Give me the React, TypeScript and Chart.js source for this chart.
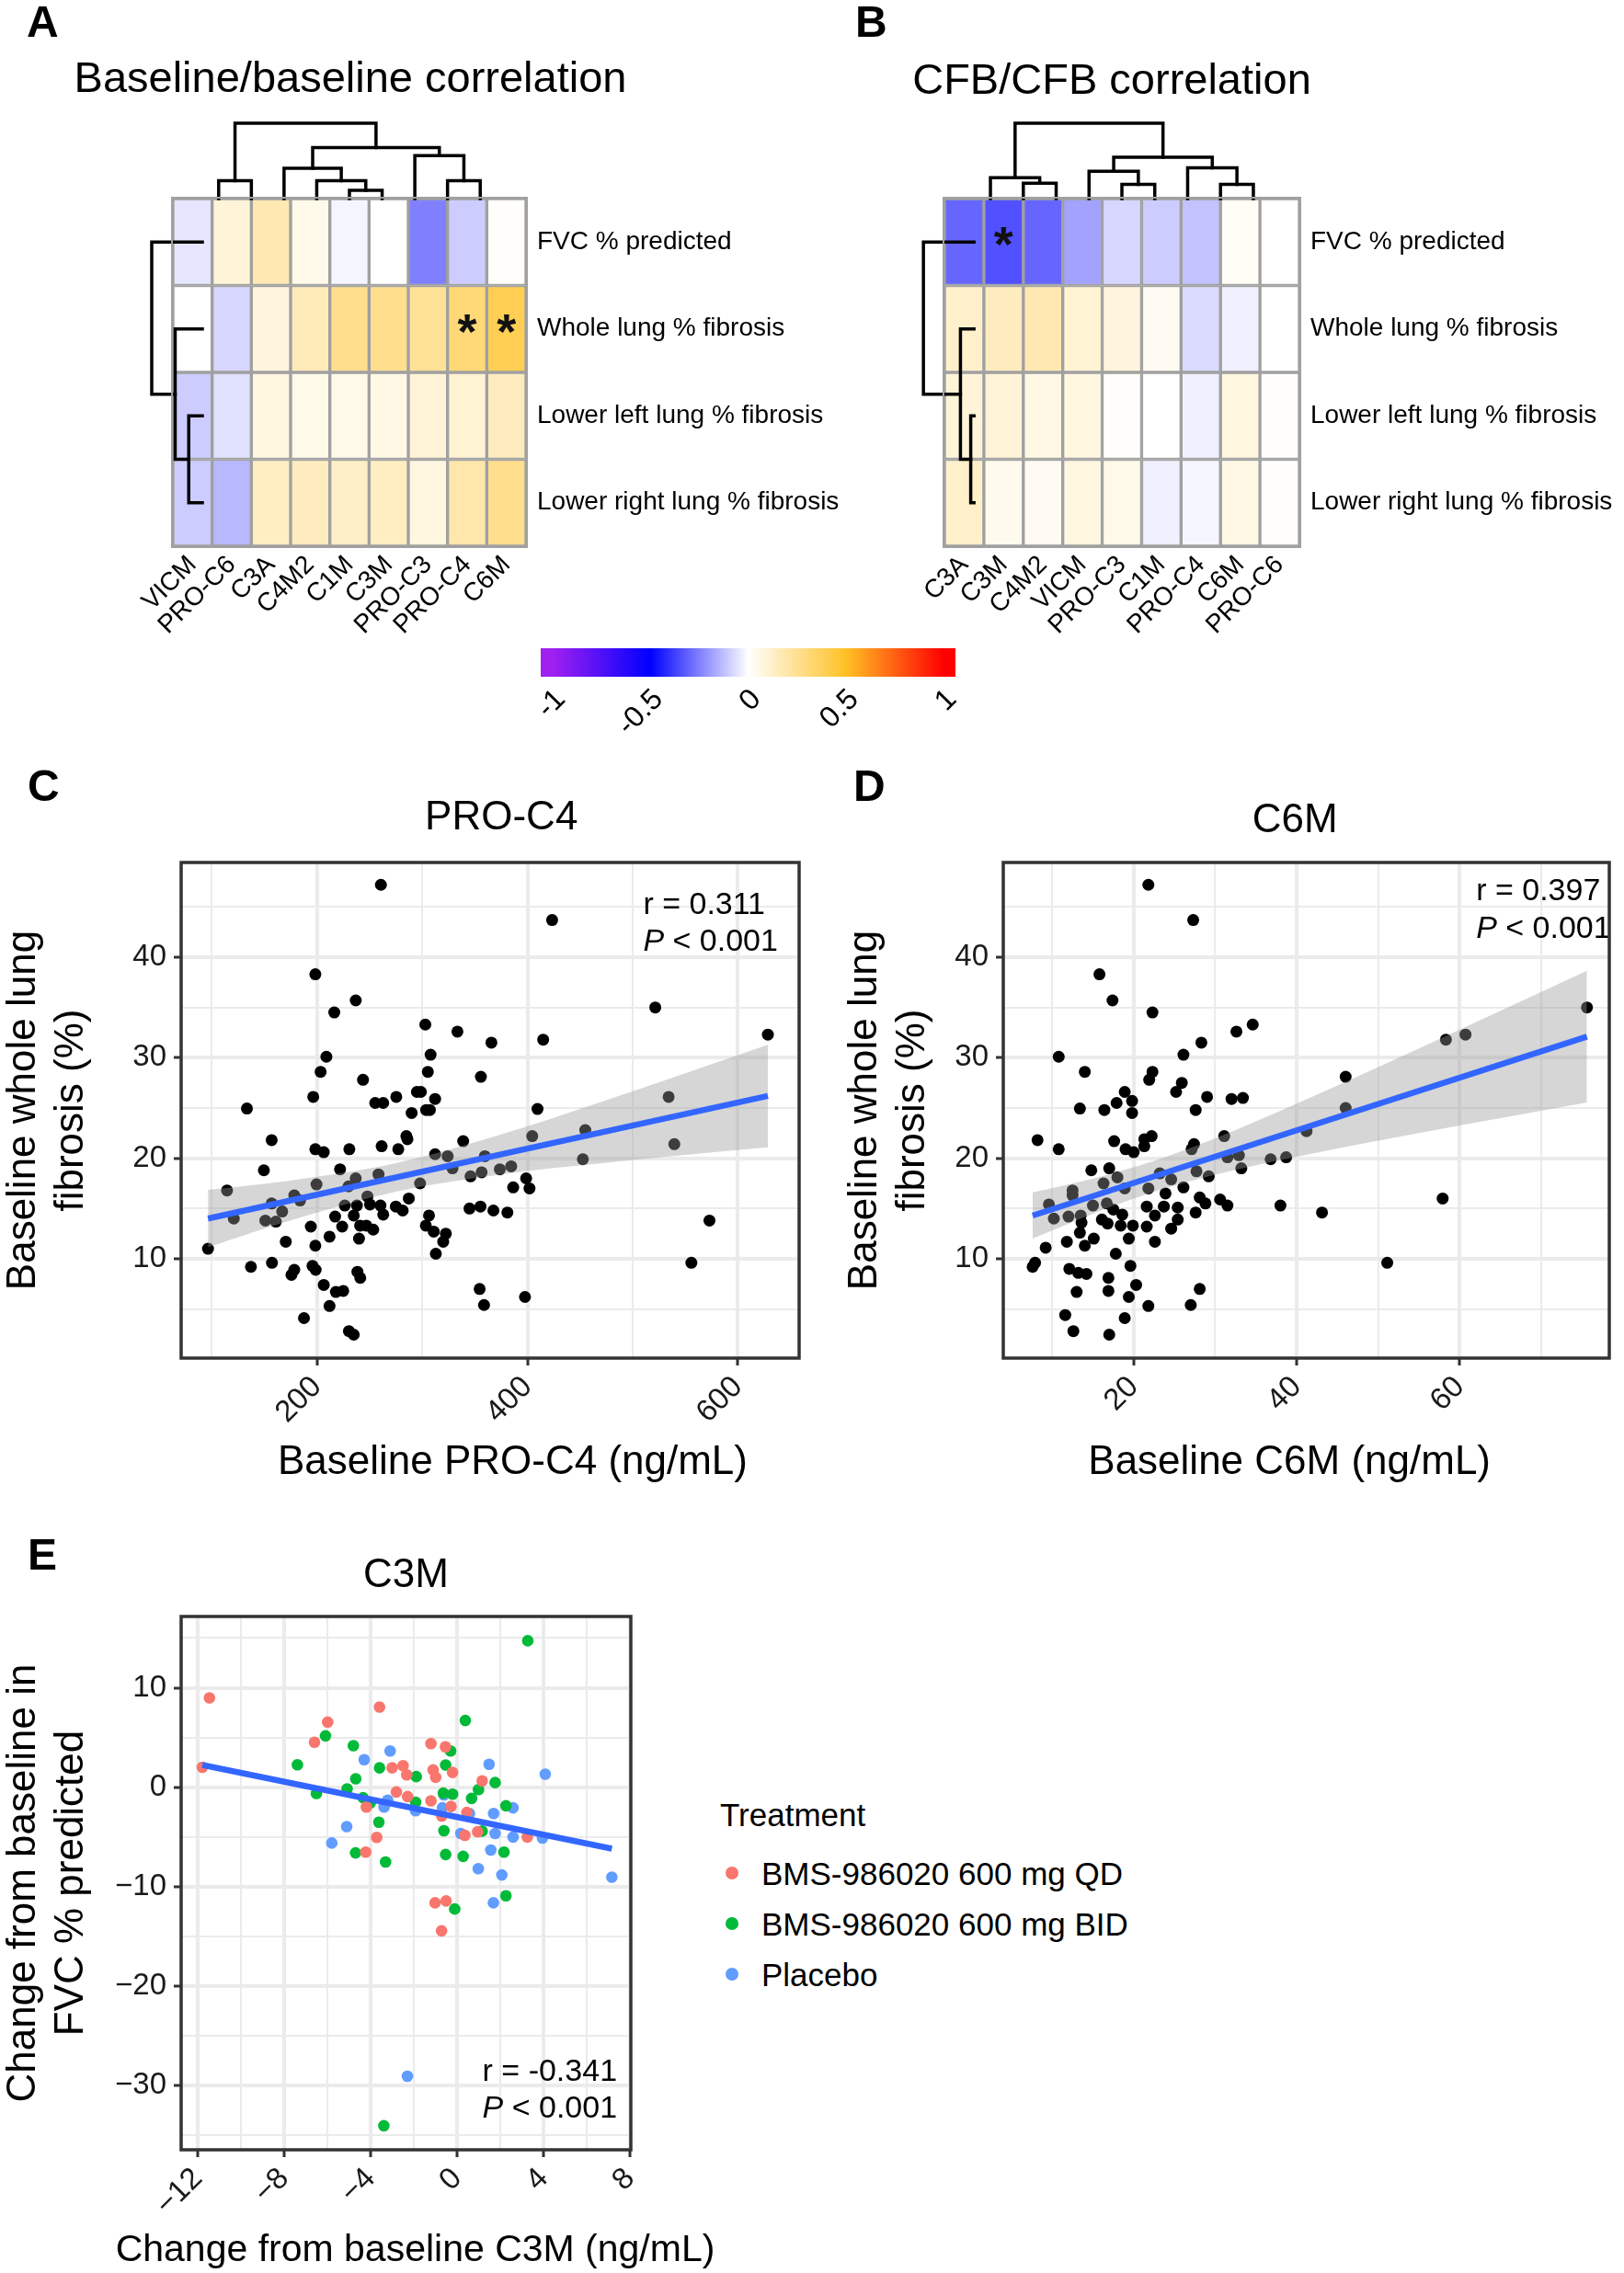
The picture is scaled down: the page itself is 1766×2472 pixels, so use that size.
import React, { useEffect, useRef } from 'react';
import { Chart, registerables } from 'chart.js';

Chart.register(...registerables);

const FONT = '"Liberation Sans", Arial, Helvetica, sans-serif';
Chart.defaults.font.family = FONT;
Chart.defaults.color = '#000';

// ---------------- Heatmap data ----------------
const rowLabels = ['FVC % predicted', 'Whole lung % fibrosis', 'Lower left lung % fibrosis', 'Lower right lung % fibrosis'];

const colsA = ['VICM', 'PRO-C6', 'C3A', 'C4M2', 'C1M', 'C3M', 'PRO-C3', 'PRO-C4', 'C6M'];
const corrA_FVC = [-0.05, 0.09, 0.18, 0.05, -0.02, 0.0, -0.25, -0.1, 0.01];
const corrA_Whole = [0.0, -0.08, 0.08, 0.16, 0.26, 0.26, 0.24, 0.311, 0.397];
const corrA_LowerLeft = [-0.1, -0.06, 0.07, 0.05, 0.05, 0.06, 0.09, 0.1, 0.15];
const corrA_LowerRight = [-0.1, -0.14, 0.14, 0.15, 0.13, 0.14, 0.07, 0.19, 0.26];
const sigA = [[1, 7], [1, 8]];
const colMergeA = [[-5, -6], [-1, -2], [-4, 1], [-8, -9], [-3, 3], [-7, 4], [5, 6], [2, 7]];
const colHeightA = [0.109, 0.237, 0.237, 0.237, 0.403, 0.569, 0.678, 1.0];
const rowMergeA = [[-3, -4], [-2, 1], [-1, 2]];
const rowHeightA = [0.268, 0.537, 1.0];

const colsB = ['C3A', 'C3M', 'C4M2', 'VICM', 'PRO-C3', 'C1M', 'PRO-C4', 'C6M', 'PRO-C6'];
const corrB_FVC = [-0.3, -0.341, -0.3, -0.18, -0.08, -0.1, -0.12, 0.02, 0.0];
const corrB_Whole = [0.12, 0.15, 0.18, 0.1, 0.08, 0.03, -0.07, -0.03, 0.0];
const corrB_LowerLeft = [0.09, 0.09, 0.06, 0.07, 0.01, 0.0, -0.03, 0.07, 0.005];
const corrB_LowerRight = [0.12, 0.04, 0.03, 0.07, 0.05, -0.03, -0.02, 0.06, 0.005];
const sigB = [[0, 1]];
const colMergeB = [[-2, -3], [-5, -6], [-8, -9], [-1, 1], [-4, 2], [-7, 3], [5, 6], [4, 7]];
const colHeightB = [0.205, 0.19, 0.19, 0.276, 0.362, 0.41, 0.548, 1.0];
const rowMergeB = [[-3, -4], [-2, 1], [-1, 2]];
const rowHeightB = [0.065, 0.268, 1.0];

// colour scale
const scaleStops = [-1, -0.5, 0, 0.5, 1];
const scaleColors = ['#A020F0', '#0000FF', '#FFFFFF', '#FFC125', '#FF0000'];
const scaleTickLabels = ['-1', '-0.5', '0', '0.5', '1'];

// ---------------- Panel C (PRO-C4) ----------------
const cX = [260.8, 423.5, 198.5, 236.9, 216.5, 521.5, 628.5, 303, 333.5, 365.8, 415, 209, 203.5, 308, 305.4, 243.8, 355.8, 196.5, 255.4, 263, 275.4, 295, 298.8, 312.3, 133.5, 290, 303.8, 307.3, 409.6, 534.2, 157, 285, 286, 339, 404.6, 455, 539.6, 198.5, 206.5, 230.8, 261.5, 277.3, 312.3, 324.2, 359.6, 452.7, 149.6, 222, 236.9, 258.5, 328.8, 346, 356.5, 373.8, 384.6, 114.6, 121, 151, 157, 161, 167, 178.5, 184, 199.6, 230, 226.5, 238, 248, 250.4, 260.4, 263, 217.3, 224, 235, 241, 253.5, 247, 240, 275, 281.5, 287.3, 298, 306.5, 303.5, 311, 322.5, 320, 313, 345, 355.4, 367.7, 381, 386.5, 398.8, 402, 194.2, 212, 198.5, 170.4, 96.5, 137.3, 157.3, 175.8, 178.5, 195.8, 198.8, 206.5, 218, 225, 238.5, 241.2, 212, 187.7, 230.4, 235, 354.6, 358.8, 397.7, 573, 555.8];
const cY = [47.2, 43.7, 38.3, 35.7, 34.5, 35.0, 32.3, 33.3, 32.6, 31.5, 31.8, 30.1, 28.6, 30.3, 28.6, 27.8, 28.1, 26.1, 25.5, 25.5, 26.1, 26.6, 26.6, 25.9, 24.95, 24.5, 24.8, 24.8, 24.9, 26.1, 21.8, 22.2, 21.9, 21.7, 22.2, 22.8, 21.4, 20.9, 20.6, 20.9, 21.2, 20.9, 20.4, 20.2, 20.2, 19.9, 18.8, 18.9, 18.0, 18.4, 19.0, 18.2, 18.6, 18.9, 19.2, 16.8, 14.0, 13.8, 15.5, 13.7, 14.7, 16.3, 15.8, 17.4, 17.2, 15.3, 15.3, 16.2, 15.4, 15.3, 14.4, 14.2, 13.2, 14.3, 13.3, 12.9, 13.3, 12.0, 15.2, 14.8, 16.0, 17.5, 14.3, 13.3, 12.7, 12.5, 11.7, 10.5, 15.0, 15.2, 14.8, 14.6, 17.1, 18.0, 17.0, 13.2, 12.2, 11.3, 11.7, 11.0, 9.2, 9.6, 8.4, 8.9, 9.3, 8.9, 7.4, 6.7, 6.8, 8.7, 8.1, 5.3, 4.1, 2.8, 2.45, 7.0, 5.4, 6.2, 13.8, 9.6];
const fitCX = [96.5, 628.5];
const fitCY = [14.0, 26.2];
const bandCX = [96.5, 175, 275, 375, 475, 550, 628.5];
const bandCLow = [11.15, 13.82, 16.68, 18.4, 19.56, 20.33, 21.08];
const bandCHigh = [16.85, 17.78, 19.5, 22.36, 25.78, 28.45, 31.28];
const ticksCX = [100, 200, 300, 400, 500, 600];
const majorCX = [200, 400, 600];
const ticksFibY = [5, 10, 15, 20, 25, 30, 35, 40, 45];
const majorFibY = [10, 20, 30, 40];

// ---------------- Panel D (C6M) ----------------
const dX = [21.8, 27.3, 15.8, 17.4, 22.3, 75.6, 34.6, 32.6, 60.7, 58.3, 28.3, 10.8, 26.1, 14.0, 22.3, 21.9, 46.0, 25.9, 25.2, 18.9, 17.9, 19.8, 29.0, 32.0, 33.4, 13.4, 16.4, 19.8, 27.6, 46.0, 8.2, 10.8, 17.6, 19.0, 20.0, 21.3, 22.2, 21.3, 27.1, 27.4, 31.1, 41.2, 32.9, 31.5, 36.8, 38.7, 14.8, 17.0, 18.0, 16.3, 23.2, 24.6, 27.7, 29.2, 33.2, 12.5, 12.5, 9.6, 10.2, 12.0, 13.5, 15.0, 16.7, 17.5, 18.6, 18.9, 21.8, 23.9, 26.1, 28.1, 28.8, 30.6, 31.5, 38.0, 43.1, 57.9, 21.6, 23.7, 25.4, 22.6, 25.4, 27.6, 13.6, 16.1, 16.8, 18.4, 19.9, 21.6, 24.6, 13.4, 15.1, 19.4, 22.6, 11.8, 14.0, 9.2, 17.8, 7.6, 7.9, 12.1, 13.2, 14.2, 19.6, 16.9, 20.3, 13.0, 16.9, 19.4, 28.1, 21.8, 27.0, 11.6, 18.9, 12.6, 17.0, 51.1];
const dY = [47.2, 43.7, 38.3, 35.7, 34.5, 35.0, 33.3, 32.6, 32.3, 31.8, 31.5, 30.1, 30.3, 28.6, 28.6, 27.8, 28.1, 27.5, 26.6, 26.6, 25.5, 25.7, 26.1, 25.9, 26.0, 24.95, 24.8, 24.5, 24.8, 25.0, 21.8, 20.9, 21.7, 20.9, 20.6, 21.2, 22.2, 21.9, 20.9, 21.4, 22.2, 22.7, 20.3, 20.1, 19.9, 20.1, 18.8, 19.0, 18.1, 17.5, 18.5, 17.9, 18.7, 18.2, 19.0, 16.8, 16.3, 15.4, 14.0, 14.2, 14.3, 15.3, 15.5, 14.9, 14.4, 17.0, 17.0, 16.5, 17.1, 16.1, 15.5, 15.9, 15.3, 15.3, 14.6, 16.0, 15.2, 15.2, 15.1, 14.3, 13.9, 14.6, 13.6, 13.9, 13.5, 13.3, 13.3, 13.2, 13.0, 12.6, 12.0, 12.0, 11.7, 11.7, 11.3, 11.1, 10.5, 9.2, 9.6, 9.0, 8.6, 8.5, 9.3, 8.1, 7.4, 6.7, 6.8, 6.2, 7.0, 5.3, 5.4, 4.4, 4.1, 2.8, 2.45, 9.6];
const fitDX = [7.6, 75.6];
const fitDY = [14.3, 32.1];
const bandDX = [7.6, 15, 22, 30, 40, 50, 60, 75.6];
const bandDLow = [12.0, 14.49, 16.53, 18.36, 20.15, 21.75, 23.26, 25.55];
const bandDHigh = [16.6, 17.99, 19.61, 21.98, 25.43, 29.07, 32.8, 38.65];
const ticksDX = [10, 20, 30, 40, 50, 60, 70];
const majorDX = [20, 40, 60];

// ---------------- Panel E (C3M change) ----------------
const groupNames = ['BMS-986020 600 mg QD', 'BMS-986020 600 mg BID', 'Placebo'];
const groupColors = ['#F8766D', '#00BA38', '#619CFF'];
const qdX = [-11.46, -11.79, -3.59, -5.99, -6.6, -1.21, -0.54, -3.01, -2.5, -2.33, -1.11, -0.99, -0.21, 1.16, -2.81, -2.29, -1.21, -4.2, -0.28, -0.71, 0.45, 0.95, 0.36, -3.72, -4.23, 3.25, -1.02, -0.51, -0.72];
const qdY = [8.98, 2.0, 8.06, 6.54, 4.52, 4.38, 4.06, 1.94, 2.16, 1.24, 1.73, 0.99, 1.48, 0.64, -0.49, -0.95, -1.38, -2.0, -1.94, -2.9, -2.54, -4.49, -4.84, -5.05, -6.54, -5.02, -11.63, -11.45, -14.45];
const bidX = [3.27, 0.38, -6.09, -4.8, -0.3, -7.39, -0.53, -3.59, -1.89, -4.69, 1.76, -5.09, 0.99, -0.64, -0.21, -6.51, 0.67, -4.35, -4.02, -1.92, 2.26, -3.62, -0.61, 1.16, -4.7, -3.31, -0.53, 0.28, 2.17, 2.26, -0.11, -3.39];
const bidY = [14.73, 6.71, 5.16, 4.17, 3.64, 2.26, 2.23, 1.94, 1.06, 0.85, 0.46, -0.18, -0.25, -0.6, -0.71, -0.64, -1.13, -1.06, -1.59, -1.52, -1.87, -3.53, -4.38, -4.42, -6.61, -7.53, -6.78, -6.96, -6.54, -10.92, -12.26, -34.06];
const pboX = [-3.1, -4.3, 1.48, 4.08, -0.61, -3.21, -3.38, -1.92, -0.68, 0.57, 1.69, 2.59, -5.11, 0.17, 1.76, 2.59, 3.95, -5.8, 1.56, 0.98, 2.07, 7.16, 1.68, -2.3];
const pboY = [3.64, 2.76, 2.3, 1.31, -0.78, -1.31, -2.0, -2.37, -2.08, -2.65, -2.65, -2.08, -3.96, -4.66, -4.66, -5.02, -5.12, -5.62, -6.33, -8.2, -8.83, -9.05, -11.63, -29.08];
const fitEX = [-11.79, 7.16];
const fitEY = [2.23, -6.19];
const ticksEX = [-12, -10, -8, -6, -4, -2, 0, 2, 4, 6, 8];
const majorEX = [-12, -8, -4, 0, 4, 8];
const ticksEY = [-35, -30, -25, -20, -15, -10, -5, 0, 5, 10, 15];
const majorEY = [-30, -20, -10, 0, 10];

// ---------------- helpers ----------------
function hexRgb(h: string) {
  const n = parseInt(h.slice(1), 16);
  return [(n >> 16) & 255, (n >> 8) & 255, n & 255];
}
function colorFor(v: number) {
  const c = scaleColors.map(hexRgb);
  let i = 0;
  while (i < scaleStops.length - 2 && v > scaleStops[i + 1]) i++;
  const t = Math.max(0, Math.min(1, (v - scaleStops[i]) / (scaleStops[i + 1] - scaleStops[i])));
  const m = c[i].map((a, k) => Math.round(a + (c[i + 1][k] - a) * t));
  return `rgb(${m[0]},${m[1]},${m[2]})`;
}
function dendroLines(merge: number[][], heights: number[]) {
  const pos: number[] = [];
  const hs: number[] = [];
  const lines: { p: number; h: number }[][] = [];
  const get = (id: number) => (id < 0 ? { p: -id, h: 0 } : { p: pos[id - 1], h: hs[id - 1] });
  merge.forEach(([a, b], i) => {
    const A = get(a);
    const B = get(b);
    const h = heights[i];
    lines.push([{ p: A.p, h: A.h }, { p: A.p, h }, { p: B.p, h }, { p: B.p, h: B.h }]);
    pos.push((A.p + B.p) / 2);
    hs.push(h);
  });
  return lines;
}
const pts = (xs: number[], ys: number[]) => xs.map((x, i) => ({ x, y: ys[i] }));

// ---------------- plugins ----------------
const sigPlugin = {
  id: 'sigStars',
  afterDatasetsDraw(chart: any, _a: any, opts: any) {
    const { ctx, chartArea } = chart;
    const xs = chart.scales.x;
    const ys = chart.scales.y;
    ctx.save();
    ctx.strokeStyle = '#a0a0a0';
    ctx.lineWidth = 2;
    ctx.strokeRect(chartArea.left - 1, chartArea.top - 1, chartArea.right - chartArea.left + 2, chartArea.bottom - chartArea.top + 2);
    ctx.font = `bold 54px ${FONT}`;
    ctx.textAlign = 'center';
    ctx.textBaseline = 'middle';
    ctx.fillStyle = '#111';
    (opts.cells || []).forEach(([r, c]: number[]) => {
      ctx.fillText('*', xs.getPixelForValue(c), ys.getPixelForValue(r + 0.5) + 6);
    });
    ctx.restore();
  },
};

// centred text relative to the chart area (titles wider than the plotting area)
const freeTextPlugin = {
  id: 'freeText',
  afterDraw(chart: any, _a: any, opts: any) {
    const items = (opts && opts.items) || [];
    const { ctx, chartArea: a } = chart;
    ctx.save();
    ctx.fillStyle = '#000';
    ctx.textAlign = 'center';
    ctx.textBaseline = 'middle';
    items.forEach((it: any) => {
      ctx.font = `${it.size}px ${FONT}`;
      ctx.fillText(it.text, (a.left + a.right) / 2 + (it.dx || 0), it.y);
    });
    ctx.restore();
  },
};

const corrPlugin = {
  id: 'corrText',
  afterDatasetsDraw(chart: any, _a: any, opts: any) {
    if (!opts || opts.x === undefined) return;
    const { ctx } = chart;
    const xs = chart.scales.x;
    const ys = chart.scales.y;
    const x = xs.getPixelForValue(opts.x);
    ctx.save();
    ctx.fillStyle = '#000';
    ctx.textBaseline = 'middle';
    ctx.textAlign = 'left';
    ctx.font = `34px ${FONT}`;
    ctx.fillText(opts.rText, x, ys.getPixelForValue(opts.y1));
    const y2 = ys.getPixelForValue(opts.y2);
    ctx.font = `italic 34px ${FONT}`;
    ctx.fillText('P', x, y2);
    const w = ctx.measureText('P').width;
    ctx.font = `34px ${FONT}`;
    ctx.fillText(' < ' + opts.pText, x + w, y2);
    ctx.restore();
  },
};

const boxPlugin = {
  id: 'panelBox',
  afterDatasetsDraw(chart: any) {
    const { ctx, chartArea: a } = chart;
    ctx.save();
    ctx.strokeStyle = '#333333';
    ctx.lineWidth = 3.5;
    ctx.strokeRect(a.left, a.top, a.right - a.left, a.bottom - a.top);
    ctx.restore();
  },
};

// ---------------- configs ----------------
function heatmapConfig(o: any) {
  const { cols, values, colMerge, colHeights, rowMerge, rowHeights, sig, titleText, titleDx, titleY, W, H, area } = o;
  const areaW = area.right - area.left;
  const areaH = area.bottom - area.top;
  const datasets: any[] = [];
  const lineStyle = { borderColor: '#000', borderWidth: 3.5, pointRadius: 0, fill: false, clip: false, tension: 0, borderCapStyle: 'square', borderJoinStyle: 'miter' };
  dendroLines(colMerge, colHeights).forEach((l) =>
    datasets.push({ type: 'line', data: l.map((q) => ({ x: q.p, y: q.h })), xAxisID: 'xd', yAxisID: 'yd', ...lineStyle })
  );
  dendroLines(rowMerge, rowHeights).forEach((l) =>
    datasets.push({ type: 'line', data: l.map((q) => ({ x: q.h, y: q.p - 0.5 })), xAxisID: 'xr', yAxisID: 'y', ...lineStyle })
  );
  rowLabels.forEach((r, ri) =>
    datasets.push({
      type: 'bar', label: r, data: cols.map(() => [ri, ri + 1]), backgroundColor: values[ri].map(colorFor),
      borderColor: '#a0a0a0', borderWidth: 2, borderSkipped: false, grouped: false, barPercentage: 1, categoryPercentage: 1,
      xAxisID: 'x', yAxisID: 'y',
    })
  );
  return {
    type: 'bar',
    data: { labels: cols, datasets },
    options: {
      responsive: false, animation: false, events: [],
      layout: { padding: { left: area.left, top: area.top, right: 0, bottom: 0 } },
      plugins: {
        legend: { display: false }, tooltip: { enabled: false }, title: { display: false },
        sigStars: { cells: sig },
        freeText: { items: [{ text: titleText, dx: titleDx, y: titleY, size: 47 }] },
      },
      scales: {
        x: {
          type: 'category', position: 'bottom', grid: { display: false, drawTicks: false }, border: { display: false },
          ticks: { autoSkip: false, minRotation: 45, maxRotation: 45, font: { size: 28 }, color: '#000', padding: 4 },
          afterFit: (s: any) => { s.height = H - area.bottom; },
        },
        y: {
          type: 'linear', position: 'right', min: 0, max: 4, reverse: true, bounds: 'data',
          grid: { display: false, drawTicks: false }, border: { display: false },
          afterBuildTicks: (s: any) => { s.ticks = rowLabels.map((_, i) => ({ value: i + 0.5 })); },
          ticks: { autoSkip: false, callback: (v: number) => rowLabels[Math.floor(v)], font: { size: 28 }, color: '#000', padding: 12 },
          afterFit: (s: any) => { s.width = W - area.right; },
        },
        xd: { type: 'linear', display: false, min: 0.5, max: cols.length + 0.5 },
        yd: { type: 'linear', display: false, min: -(areaH / 82), max: 0 },
        xr: { type: 'linear', display: false, reverse: true, min: -(areaW / 66), max: 0 },
      },
    },
    plugins: [sigPlugin, freeTextPlugin],
  };
}

function colorbarConfig() {
  const lim = 1.06;
  return {
    type: 'bar',
    data: {
      labels: ['r'],
      datasets: [{
        data: [[-lim, lim]], borderWidth: 0, barPercentage: 1, categoryPercentage: 1,
        backgroundColor: (c: any) => {
          const chart = c.chart;
          if (!chart.chartArea) return '#fff';
          const xs = chart.scales.x;
          const x0 = xs.getPixelForValue(-lim);
          const x1 = xs.getPixelForValue(lim);
          const g = chart.ctx.createLinearGradient(x0, 0, x1, 0);
          scaleStops.forEach((v, i) => g.addColorStop((v + lim) / (2 * lim), scaleColors[i]));
          g.addColorStop(0, scaleColors[0]);
          g.addColorStop(1, scaleColors[scaleColors.length - 1]);
          return g;
        },
      }],
    },
    options: {
      indexAxis: 'y', responsive: false, animation: false, events: [],
      layout: { padding: { left: 28, right: 41, top: 15, bottom: 0 } },
      plugins: { legend: { display: false }, tooltip: { enabled: false } },
      scales: {
        x: {
          type: 'linear', min: -lim, max: lim, bounds: 'data',
          afterBuildTicks: (s: any) => { s.ticks = scaleStops.map((v) => ({ value: v })); },
          ticks: { autoSkip: false, minRotation: 45, maxRotation: 45, font: { size: 32 }, color: '#000', padding: 6, labelOffset: 9, callback: (v: number) => scaleTickLabels[scaleStops.indexOf(v)] },
          grid: { display: false, drawTicks: false }, border: { display: false },
          afterFit: (s: any) => { s.height = 74; },
        },
        y: { display: false },
      },
    },
  };
}

function scatterConfig(o: any) {
  const isMajorX = (v: number) => o.xMajor.includes(v);
  const isMajorY = (v: number) => o.yMajor.includes(v);
  const gridFor = (isMajor: (v: number) => boolean) => ({
    color: '#EBEBEB',
    lineWidth: (c: any) => (c.tick && isMajor(c.tick.value) ? 4 : 2),
    tickColor: (c: any) => (c.tick && isMajor(c.tick.value) ? '#333333' : 'rgba(0,0,0,0)'),
    tickLength: 8, tickWidth: 3, drawTicks: true, drawOnChartArea: true,
  });
  const tTop = o.titleCenter - 26.4;
  return {
    type: 'scatter',
    data: { datasets: o.datasets },
    options: {
      responsive: false, animation: false, events: [],
      layout: { padding: { left: 0, top: 0, right: o.W - o.area.right, bottom: 0 } },
      plugins: {
        legend: { display: false }, tooltip: { enabled: false },
        title: { display: true, text: o.title, fullSize: false, color: '#000', font: { size: 44, weight: 'normal', lineHeight: 1.2 }, padding: { top: tTop, bottom: o.area.top - tTop - 52.8 } },
        corrText: o.annot, panelBox: {},
        freeText: { items: o.extraText || [] },
      },
      scales: {
        x: {
          type: 'linear', position: 'bottom', min: o.xMin, max: o.xMax, bounds: 'data',
          afterBuildTicks: (s: any) => { s.ticks = o.xTicks.map((v: number) => ({ value: v })); },
          afterFit: (s: any) => { s.height = o.H - o.area.bottom; },
          ticks: { autoSkip: false, minRotation: 45, maxRotation: 45, padding: 4, color: '#1a1a1a', font: { size: 33 }, callback: (v: number) => (isMajorX(v) ? o.fmt(v) : '') },
          grid: gridFor(isMajorX), border: { display: false },
          title: { display: !!o.xTitle, text: o.xTitle || '', color: '#000', font: { size: 44, lineHeight: 1.18 }, padding: { top: 0, bottom: o.xTitlePad } },
        },
        y: {
          type: 'linear', position: 'left', min: o.yMin, max: o.yMax, bounds: 'data',
          afterBuildTicks: (s: any) => { s.ticks = o.yTicks.map((v: number) => ({ value: v })); },
          afterFit: (s: any) => { s.width = o.area.left; },
          ticks: { autoSkip: false, padding: 8, color: '#1a1a1a', font: { size: 33 }, callback: (v: number) => (isMajorY(v) ? o.fmt(v) : '') },
          grid: gridFor(isMajorY), border: { display: false },
          title: { display: true, text: o.yTitle, color: '#000', font: { size: 44, lineHeight: 1.18 }, padding: { top: 0, bottom: 0 } },
        },
      },
    },
    plugins: [corrPlugin, boxPlugin, freeTextPlugin],
  };
}

const fitStyle = { type: 'line', borderColor: '#3366FF', borderWidth: 6.5, pointRadius: 0, fill: false, tension: 0 };
const bandStyle = { type: 'line', borderWidth: 0, borderColor: 'rgba(0,0,0,0)', pointRadius: 0, cubicInterpolationMode: 'monotone' };
const plain = (v: number) => String(v);
const minus = (v: number) => (v < 0 ? '\u2212' + Math.abs(v) : String(v));

function buildA() {
  return heatmapConfig({
    cols: colsA, values: [corrA_FVC, corrA_Whole, corrA_LowerLeft, corrA_LowerRight],
    colMerge: colMergeA, colHeights: colHeightA, rowMerge: rowMergeA, rowHeights: rowHeightA, sig: sigA,
    titleText: 'Baseline/baseline correlation', titleDx: 1, titleY: 47,
    W: 900, H: 670, area: { left: 148, top: 176, right: 532, bottom: 554 },
  });
}
function buildB() {
  return heatmapConfig({
    cols: colsB, values: [corrB_FVC, corrB_Whole, corrB_LowerLeft, corrB_LowerRight],
    colMerge: colMergeB, colHeights: colHeightB, rowMerge: rowMergeB, rowHeights: rowHeightB, sig: sigB,
    titleText: 'CFB/CFB correlation', titleDx: -11, titleY: 49,
    W: 826, H: 670, area: { left: 87, top: 176, right: 473, bottom: 554 },
  });
}
function buildC() {
  return scatterConfig({
    W: 890, H: 760, area: { left: 197, top: 78, right: 869, bottom: 617 }, titleCenter: 30, xTitlePad: 3,
    title: '  PRO-C4', xTitle: '    Baseline PRO-C4 (ng/mL)', yTitle: ['Baseline whole lung', 'fibrosis (%)'],
    xMin: 71, xMax: 658.2, yMin: 0.12, yMax: 49.42, xTicks: ticksCX, xMajor: majorCX, yTicks: ticksFibY, yMajor: majorFibY, fmt: plain,
    annot: { x: 510, y1: 45.2, y2: 41.5, rText: 'r = 0.311', pText: '0.001' },
    datasets: [
      { ...fitStyle, data: pts(fitCX, fitCY) },
      { ...bandStyle, data: pts(bandCX, bandCHigh), fill: '+1', backgroundColor: 'rgba(153,153,153,0.4)' },
      { ...bandStyle, data: pts(bandCX, bandCLow), fill: false },
      { type: 'scatter', data: pts(cX, cY), pointRadius: 6.5, backgroundColor: '#000', borderWidth: 0 },
    ],
  });
}
function buildD() {
  return scatterConfig({
    W: 851, H: 760, area: { left: 176, top: 78, right: 835, bottom: 617 }, titleCenter: 33, xTitlePad: 3,
    title: 'C6M  ', xTitle: 'Baseline C6M (ng/mL)   ', yTitle: ['Baseline whole lung', 'fibrosis (%)'],
    xMin: 4.0, xMax: 78.34, yMin: 0.12, yMax: 49.42, xTicks: ticksDX, xMajor: majorDX, yTicks: ticksFibY, yMajor: majorFibY, fmt: plain,
    annot: { x: 62, y1: 46.5, y2: 42.8, rText: 'r = 0.397', pText: '0.001' },
    datasets: [
      { ...fitStyle, data: pts(fitDX, fitDY) },
      { ...bandStyle, data: pts(bandDX, bandDHigh), fill: '+1', backgroundColor: 'rgba(153,153,153,0.4)' },
      { ...bandStyle, data: pts(bandDX, bandDLow), fill: false },
      { type: 'scatter', data: pts(dX, dY), pointRadius: 6.5, backgroundColor: '#000', borderWidth: 0 },
    ],
  });
}
function buildE() {
  return scatterConfig({
    W: 780, H: 799, area: { left: 197, top: 82, right: 686, bottom: 662 }, titleCenter: 38, xTitlePad: 0,
    title: 'C3M', xTitle: '', yTitle: ['Change from baseline in', 'FVC % predicted'],
    extraText: [{ text: 'Change from baseline C3M (ng/mL)', dx: 10, y: 772, size: 41 }],
    xMin: -12.77, xMax: 8.04, yMin: -36.48, yMax: 17.17, xTicks: ticksEX, xMajor: majorEX, yTicks: ticksEY, yMajor: majorEY, fmt: minus,
    annot: { x: 1.17, y1: -28.7, y2: -32.4, rText: 'r = -0.341', pText: '0.001' },
    datasets: [
      { ...fitStyle, data: pts(fitEX, fitEY) },
      { type: 'scatter', label: groupNames[0], data: pts(qdX, qdY), pointRadius: 6.3, backgroundColor: groupColors[0], borderWidth: 0 },
      { type: 'scatter', label: groupNames[1], data: pts(bidX, bidY), pointRadius: 6.3, backgroundColor: groupColors[1], borderWidth: 0 },
      { type: 'scatter', label: groupNames[2], data: pts(pboX, pboY), pointRadius: 6.3, backgroundColor: groupColors[2], borderWidth: 0 },
    ],
  });
}

function ChartCanvas({ x, y, w, h, build }: any) {
  const ref = useRef<HTMLCanvasElement | null>(null);
  useEffect(() => {
    if (!ref.current) return;
    const chart = new Chart(ref.current, build());
    return () => chart.destroy();
  }, []);
  return (
    <div style={{ position: 'absolute', left: x, top: y, width: w, height: h }}>
      <canvas ref={ref} width={w} height={h} style={{ display: 'block', width: w, height: h }} />
    </div>
  );
}

const letterStyle: any = { position: 'absolute', fontFamily: FONT, fontWeight: 'bold', fontSize: 48, lineHeight: '48px', color: '#000' };
const legendText: any = { position: 'absolute', fontFamily: FONT, fontSize: 35, lineHeight: '35px', color: '#000', whiteSpace: 'nowrap' };

export default function App() {
  useEffect(() => {
    document.body.style.margin = '0';
    document.body.style.overflow = 'hidden';
  }, []);
  const legendY = [2037, 2092, 2147];
  return (
    <div style={{ position: 'absolute', left: 0, top: 0, width: 1766, height: 2472, overflow: 'hidden', background: '#fff' }}>
      <ChartCanvas x={40} y={40} w={900} h={670} build={buildA} />
      <ChartCanvas x={940} y={40} w={826} h={670} build={buildB} />
      <ChartCanvas x={560} y={690} w={520} h={120} build={colorbarConfig} />
      <ChartCanvas x={0} y={860} w={890} h={760} build={buildC} />
      <ChartCanvas x={915} y={860} w={851} h={760} build={buildD} />
      <ChartCanvas x={0} y={1676} w={780} h={799} build={buildE} />

      <div style={{ ...letterStyle, left: 29, top: 0 }}>A</div>
      <div style={{ ...letterStyle, left: 930, top: 0 }}>B</div>
      <div style={{ ...letterStyle, left: 30, top: 831 }}>C</div>
      <div style={{ ...letterStyle, left: 928, top: 831 }}>D</div>
      <div style={{ ...letterStyle, left: 30, top: 1667 }}>E</div>

      <div style={{ ...legendText, left: 783, top: 1973 - 17.5 }}>Treatment</div>
      {groupNames.map((g, i) => (
        <React.Fragment key={g}>
          <div style={{ position: 'absolute', left: 796 - 7, top: legendY[i] - 7, width: 14, height: 14, borderRadius: '50%', background: groupColors[i] }} />
          <div style={{ ...legendText, left: 828, top: legendY[i] - 17.5 }}>{g}</div>
        </React.Fragment>
      ))}
    </div>
  );
}
